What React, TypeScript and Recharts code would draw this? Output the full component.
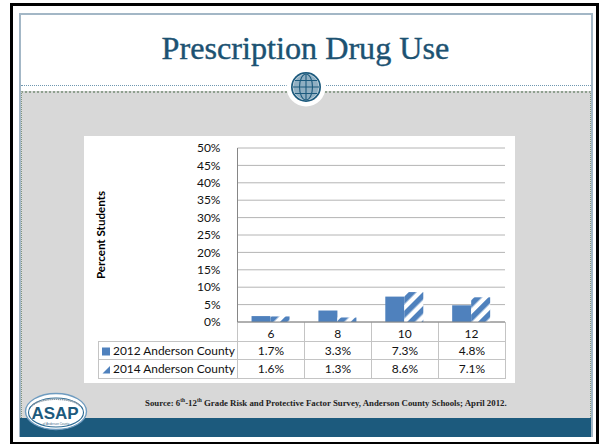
import { BarChart, Bar, CartesianGrid, XAxis, YAxis } from "recharts";

const GRADES = ["6", "8", "10", "12"];
const SERIES_2012 = [1.7, 3.3, 7.3, 4.8];
const SERIES_2014 = [1.6, 1.3, 8.6, 7.1];
const Y_TICKS = [0, 5, 10, 15, 20, 25, 30, 35, 40, 45, 50];
const NAME_2012 = "2012 Anderson County";
const NAME_2014 = "2014 Anderson County";

const COLOR_BAR = "#4F81BD";
const COLOR_GRID = "#B4B4B4";
const COLOR_AXIS = "#868686";
const COLOR_TEAL = "#1C5A7D";
const FONT_CHART = "Lato, 'Open Sans', sans-serif";
const FONT_SERIF = "'Liberation Serif', 'DejaVu Serif', serif";

const rows = GRADES.map((g, i) => ({ grade: g, y2012: SERIES_2012[i], y2014: SERIES_2014[i] }));

const box = (left: number, top: number, width: number, height: number, background: string) => ({
  position: "absolute" as const,
  left,
  top,
  width,
  height,
  background,
});

function SwatchSolid() {
  return (
    <svg width="9" height="9" style={{ marginRight: 2, verticalAlign: -1 }}>
      <rect width="8" height="8" y="0.5" fill={COLOR_BAR} />
    </svg>
  );
}

function SwatchHatched() {
  return (
    <svg width="9" height="9" style={{ marginRight: 2, verticalAlign: -1 }}>
      <polygon points="8,1 8,8.5 0.5,8.5" fill={COLOR_BAR} />
    </svg>
  );
}

const cell = {
  border: "1px solid #C4C4C4",
  padding: 0,
  textAlign: "center" as const,
  overflow: "hidden",
  whiteSpace: "nowrap" as const,
};

function DataTable() {
  return (
    <table
      style={{
        position: "absolute",
        left: 98,
        top: 322,
        width: 407,
        borderCollapse: "collapse",
        tableLayout: "fixed",
        fontFamily: FONT_CHART,
        fontSize: 12,
        color: "#111",
      }}
    >
      <colgroup>
        <col style={{ width: 139 }} />
        {GRADES.map((g) => (
          <col key={g} style={{ width: 67 }} />
        ))}
      </colgroup>
      <tbody>
        <tr style={{ height: 19 }}>
          <td style={{ ...cell, border: "none", borderBottom: cell.border, borderRight: cell.border }} />
          {GRADES.map((g) => (
            <td key={g} style={{ ...cell, borderTop: "none" }} />
          ))}
        </tr>
        <tr style={{ height: 18.5 }}>
          <td style={{ ...cell, textAlign: "left", paddingLeft: 3, fontSize: 11.9 }}>
            <SwatchSolid />
            {NAME_2012}
          </td>
          {SERIES_2012.map((v, i) => (
            <td key={i} style={cell}>{v.toFixed(1)}%</td>
          ))}
        </tr>
        <tr style={{ height: 18.5 }}>
          <td style={{ ...cell, textAlign: "left", paddingLeft: 3, fontSize: 11.9 }}>
            <SwatchHatched />
            {NAME_2014}
          </td>
          {SERIES_2014.map((v, i) => (
            <td key={i} style={cell}>{v.toFixed(1)}%</td>
          ))}
        </tr>
      </tbody>
    </table>
  );
}

// round emblem sitting on the header rule
function Globe() {
  return (
    <svg width="44" height="44" style={{ position: "absolute", left: 284, top: 65 }}>
      <circle cx="22" cy="22" r="19.5" fill="#fff" />
      <circle cx="22" cy="22" r="15" fill={COLOR_TEAL} />
      <circle cx="22" cy="22" r="13" fill="#8FAFC2" stroke="#DCE6EC" strokeWidth="0.7" />
      <ellipse cx="22" cy="22" rx="6.5" ry="13" fill="none" stroke={COLOR_TEAL} strokeWidth="1.1" />
      <path d="M22 9V35M9 22H35M11 15.5H33M11 28.5H33" stroke={COLOR_TEAL} strokeWidth="1.1" />
    </svg>
  );
}

function Logo() {
  return (
    <svg width="66" height="40" style={{ position: "absolute", left: 23, top: 392 }}>
      <ellipse cx="33" cy="19.5" rx="30.5" ry="18" fill="#fff" stroke="#6F9CC0" strokeWidth="1.4" />
      <ellipse cx="33" cy="20.5" rx="27.5" ry="14.5" fill="none" stroke="#2A6A94" strokeWidth="1.1" />
      <path d="M9 14C16 5 50 5 57 14" fill="none" stroke="#8A9AA6" strokeWidth="1.6" strokeDasharray="1.5 0.6" />
      <text x="32" y="26.5" textAnchor="middle" fontFamily="'Liberation Sans', Arial, sans-serif" fontWeight="bold" fontSize="17" fill={COLOR_TEAL}>
        ASAP
      </text>
      <text x="33" y="33.4" textAnchor="middle" fontFamily="'Liberation Sans', Arial, sans-serif" fontSize="3" fill="#47708C">
        of Anderson County
      </text>
    </svg>
  );
}

export default function App() {
  return (
    <div style={{ position: "absolute", left: 0, top: 0, width: 600, height: 445, background: "#fff", overflow: "hidden" }}>
      {/* slide frame */}
      <div style={{ ...box(10, 3, 589, 441, "transparent"), border: "3px solid #000", borderBottom: "2px solid #000", boxSizing: "border-box" }} />
      <div style={{ ...box(19, 13, 574, 424, "#fff"), border: "2px solid #A3B7C6", boxSizing: "border-box" }} />
      <div style={{ ...box(21, 85, 570, 0, "transparent"), borderTop: "1px dotted #6F97B0" }} />
      <div style={{ ...box(21, 91, 570, 327, "#D8D8D8"), borderTop: "2px dotted #8FA08F", borderLeft: "1px dotted #7F957F", borderRight: "1px dotted #7F957F", boxSizing: "border-box" }} />
      <div style={box(20, 418, 571, 19, COLOR_TEAL)} />
      <Globe />
      <div
        style={{
          position: "absolute",
          left: 0,
          width: 611,
          top: 30,
          textAlign: "center",
          fontFamily: FONT_SERIF,
          fontSize: 32.2,
          lineHeight: "36px",
          color: "#1C5272",
          WebkitTextStroke: "0.4px #1C5272",
        }}
      >
        Prescription Drug Use
      </div>

      <div style={box(84, 136, 431, 247, "#fff")} />
      <DataTable />
      <div style={{ position: "absolute", left: 84, top: 136 }}>
        <BarChart
          width={431}
          height={247}
          data={rows}
          barGap={0}
          barCategoryGap="21%"
          margin={{ top: 12, right: 10, bottom: 0, left: 0 }}
        >
          <defs>
            <pattern id="hatch2014" width="10" height="10" patternUnits="userSpaceOnUse" patternTransform="rotate(45)">
              <rect width="10" height="10" fill="#fff" />
              <rect width="5.5" height="10" fill={COLOR_BAR} />
            </pattern>
          </defs>
          <CartesianGrid vertical={false} stroke={COLOR_GRID} />
          <XAxis
            dataKey="grade"
            height={61}
            interval={0}
            tickLine={false}
            tickMargin={1}
            stroke={COLOR_AXIS}
            tick={{ fill: "#111", fontSize: 12, fontFamily: FONT_CHART }}
          />
          <YAxis
            width={153.5}
            domain={[0, 50]}
            ticks={Y_TICKS}
            interval={0}
            tickLine={false}
            tickMargin={11}
            stroke={COLOR_AXIS}
            tickFormatter={(v) => `${v}%`}
            tick={{ fill: "#111", fontSize: 12, fontFamily: FONT_CHART }}
            label={{
              value: "Percent Students",
              angle: -90,
              position: "insideLeft",
              offset: 17,
              style: { fontFamily: FONT_CHART, fontWeight: 700, fontSize: 11.6, fill: "#000", textAnchor: "middle" },
            }}
          />
          <Bar dataKey="y2012" name={NAME_2012} fill={COLOR_BAR} isAnimationActive={false} />
          <Bar dataKey="y2014" name={NAME_2014} fill="url(#hatch2014)" isAnimationActive={false} />
        </BarChart>
      </div>

      <div
        style={{
          position: "absolute",
          left: 145,
          top: 397,
          width: 380,
          fontFamily: FONT_SERIF,
          fontWeight: 700,
          fontSize: 8.8,
          lineHeight: "12px",
          color: "#222",
          whiteSpace: "nowrap",
        }}
      >
        Source: 6<sup style={{ fontSize: 5.5, lineHeight: 0 }}>th</sup>-12<sup style={{ fontSize: 5.5, lineHeight: 0 }}>th</sup> Grade Risk and Protective Factor Survey, Anderson County Schools; April 2012.
      </div>
      <Logo />
    </div>
  );
}
